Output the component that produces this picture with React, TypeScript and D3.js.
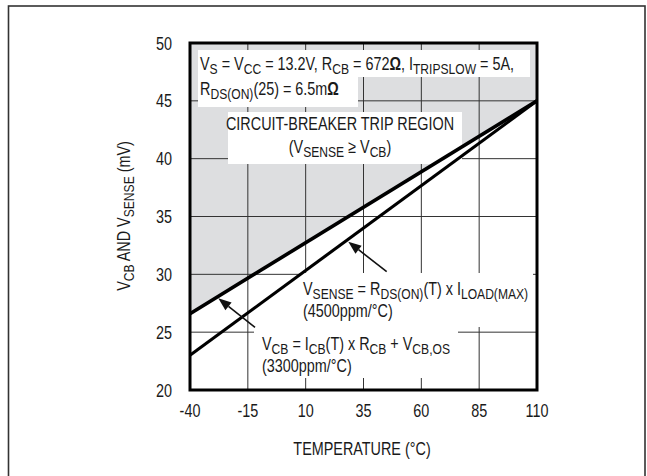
import React from "react";
import * as d3 from "d3";

const temps = [-40, 110];
const vcbValues = [26.6, 45];
const vsenseValues = [23.0, 45];
const xTicks = [-40, -15, 10, 35, 60, 85, 110];
const yTicks = [20, 25, 30, 35, 40, 45, 50];

const FONT = "'Liberation Sans', Arial, sans-serif";
const SX = 0.8;
const SIZE = 18;

type Seg = { t: string; sub?: boolean; bold?: boolean };

function Rich({ x, y, segs, size = SIZE, anchor = "start", rotate = 0 }: { x: number; y: number; segs: Seg[]; size?: number; anchor?: string; rotate?: number }) {
  const out: React.ReactNode[] = [];
  let wasSub = false;
  segs.forEach((s, i) => {
    let dy = 0;
    if (s.sub && !wasSub) dy = 3.8;
    if (!s.sub && wasSub) dy = -3.8;
    wasSub = !!s.sub;
    out.push(
      <tspan key={i} dy={dy} fontSize={s.sub ? size * 0.84 : size} fontWeight={s.bold ? "bold" : "normal"}>
        {s.t}
      </tspan>
    );
  });
  return (
    <g transform={`translate(${x},${y}) rotate(${rotate}) scale(${SX},1)`}>
      <text x={0} y={0} textAnchor={anchor as any} fontFamily={FONT} fontSize={size} fill="#1a1a1a">
        {out}
      </text>
    </g>
  );
}

function Arrow({ x1, y1, x2, y2 }: { x1: number; y1: number; x2: number; y2: number }) {
  const ang = Math.atan2(y2 - y1, x2 - x1);
  const L = 13, W = 5;
  const bx = x2 - L * Math.cos(ang), by = y2 - L * Math.sin(ang);
  const px = -Math.sin(ang) * W, py = Math.cos(ang) * W;
  return (
    <g>
      <line x1={x1} y1={y1} x2={bx} y2={by} stroke="#111" strokeWidth={1.6} />
      <path d={`M${x2},${y2}L${bx + px},${by + py}L${bx - px},${by - py}Z`} fill="#111" />
    </g>
  );
}

export default function App() {
  const left = 190, right = 537, top = 43, bottom = 390;
  const x = d3.scaleLinear().domain([-40, 110]).range([left, right]);
  const y = d3.scaleLinear().domain([20, 50]).range([bottom, top]);

  const vcb = temps.map((t, i) => [t, vcbValues[i]] as [number, number]);
  const vsense = temps.map((t, i) => [t, vsenseValues[i]] as [number, number]);
  const line = d3.line<[number, number]>().x((d) => x(d[0])).y((d) => y(d[1]));
  const area = d3
    .area<[number, number]>()
    .x((d) => x(d[0]))
    .y0(() => y(50))
    .y1((d) => y(d[1]));

  return (
    <svg width={647} height={476} style={{ position: "absolute", left: 0, top: 0 }}>
      <rect x={0} y={0} width={647} height={476} fill="#fff" />
      <rect x={8.5} y={6} width={636.5} height={490} fill="none" stroke="#333" strokeWidth={1.6} />

      <path d={area(vcb) || ""} fill="#dddee0" />

      {xTicks.map((t) => (
        <line key={"gx" + t} x1={x(t)} x2={x(t)} y1={top} y2={bottom} stroke="#333" strokeWidth={1} />
      ))}
      {yTicks.map((t) => (
        <line key={"gy" + t} x1={left} x2={right} y1={y(t)} y2={y(t)} stroke="#333" strokeWidth={1} />
      ))}

      {/* white label boxes */}
      <rect x={198} y={50} width={332} height={27} fill="#fff" />
      <rect x={198} y={77} width={160} height={30} fill="#fff" />
      <rect x={228} y={112} width={234} height={52} fill="#fff" />
      <rect x={300} y={273} width={233} height={54} fill="#fff" />
      <rect x={254} y={327} width={204} height={51} fill="#fff" />

      <path d={line(vcb) || ""} fill="none" stroke="#000" strokeWidth={3.6} />
      <path d={line(vsense) || ""} fill="none" stroke="#000" strokeWidth={3.1} />

      <rect x={left} y={top} width={right - left} height={bottom - top} fill="none" stroke="#000" strokeWidth={3} />

      {yTicks.map((t) => (
        <Rich key={"ly" + t} x={172} y={y(t) + 6.5} anchor="end" segs={[{ t: String(t) }]} />
      ))}
      {xTicks.map((t) => (
        <Rich key={"lx" + t} x={x(t)} y={417} anchor="middle" segs={[{ t: String(t) }]} />
      ))}

      <Rich x={362} y={455} anchor="middle" segs={[{ t: "TEMPERATURE (°C)" }]} />
      <Rich
        x={130}
        y={216}
        rotate={-90}
        anchor="middle"
        segs={[
          { t: "V" },
          { t: "CB", sub: true },
          { t: " AND V" },
          { t: "SENSE", sub: true },
          { t: " (mV)" },
        ]}
      />

      <Rich
        x={200}
        y={70}
        segs={[
          { t: "V" },
          { t: "S", sub: true },
          { t: " = V" },
          { t: "CC", sub: true },
          { t: " = 13.2V, R" },
          { t: "CB", sub: true },
          { t: " = 672" },
          { t: "Ω", bold: true },
          { t: ", I" },
          { t: "TRIPSLOW", sub: true },
          { t: " = 5A," },
        ]}
      />
      <Rich
        x={200}
        y={95}
        segs={[
          { t: "R" },
          { t: "DS(ON)", sub: true },
          { t: "(25) = 6.5m" },
          { t: "Ω", bold: true },
        ]}
      />

      <Rich x={340} y={130} anchor="middle" segs={[{ t: "CIRCUIT-BREAKER TRIP REGION" }]} />
      <Rich
        x={340}
        y={153}
        anchor="middle"
        segs={[
          { t: "(V" },
          { t: "SENSE", sub: true },
          { t: " ≥ V" },
          { t: "CB", sub: true },
          { t: ")" },
        ]}
      />

      <Rich
        x={303}
        y={295}
        segs={[
          { t: "V" },
          { t: "SENSE", sub: true },
          { t: " = R" },
          { t: "DS(ON)", sub: true },
          { t: "(T) x I" },
          { t: "LOAD(MAX)", sub: true },
        ]}
      />
      <Rich x={303} y={317} segs={[{ t: "(4500ppm/°C)" }]} />

      <Rich
        x={262}
        y={350}
        segs={[
          { t: "V" },
          { t: "CB", sub: true },
          { t: " = I" },
          { t: "CB", sub: true },
          { t: "(T) x R" },
          { t: "CB", sub: true },
          { t: " + V" },
          { t: "CB,OS", sub: true },
        ]}
      />
      <Rich x={262} y={372} segs={[{ t: "(3300ppm/°C)" }]} />

      <Arrow x1={386.7} y1={271.7} x2={348.3} y2={241.7} />
      <Arrow x1={255} y1={327.3} x2={218.3} y2={298.3} />
    </svg>
  );
}
